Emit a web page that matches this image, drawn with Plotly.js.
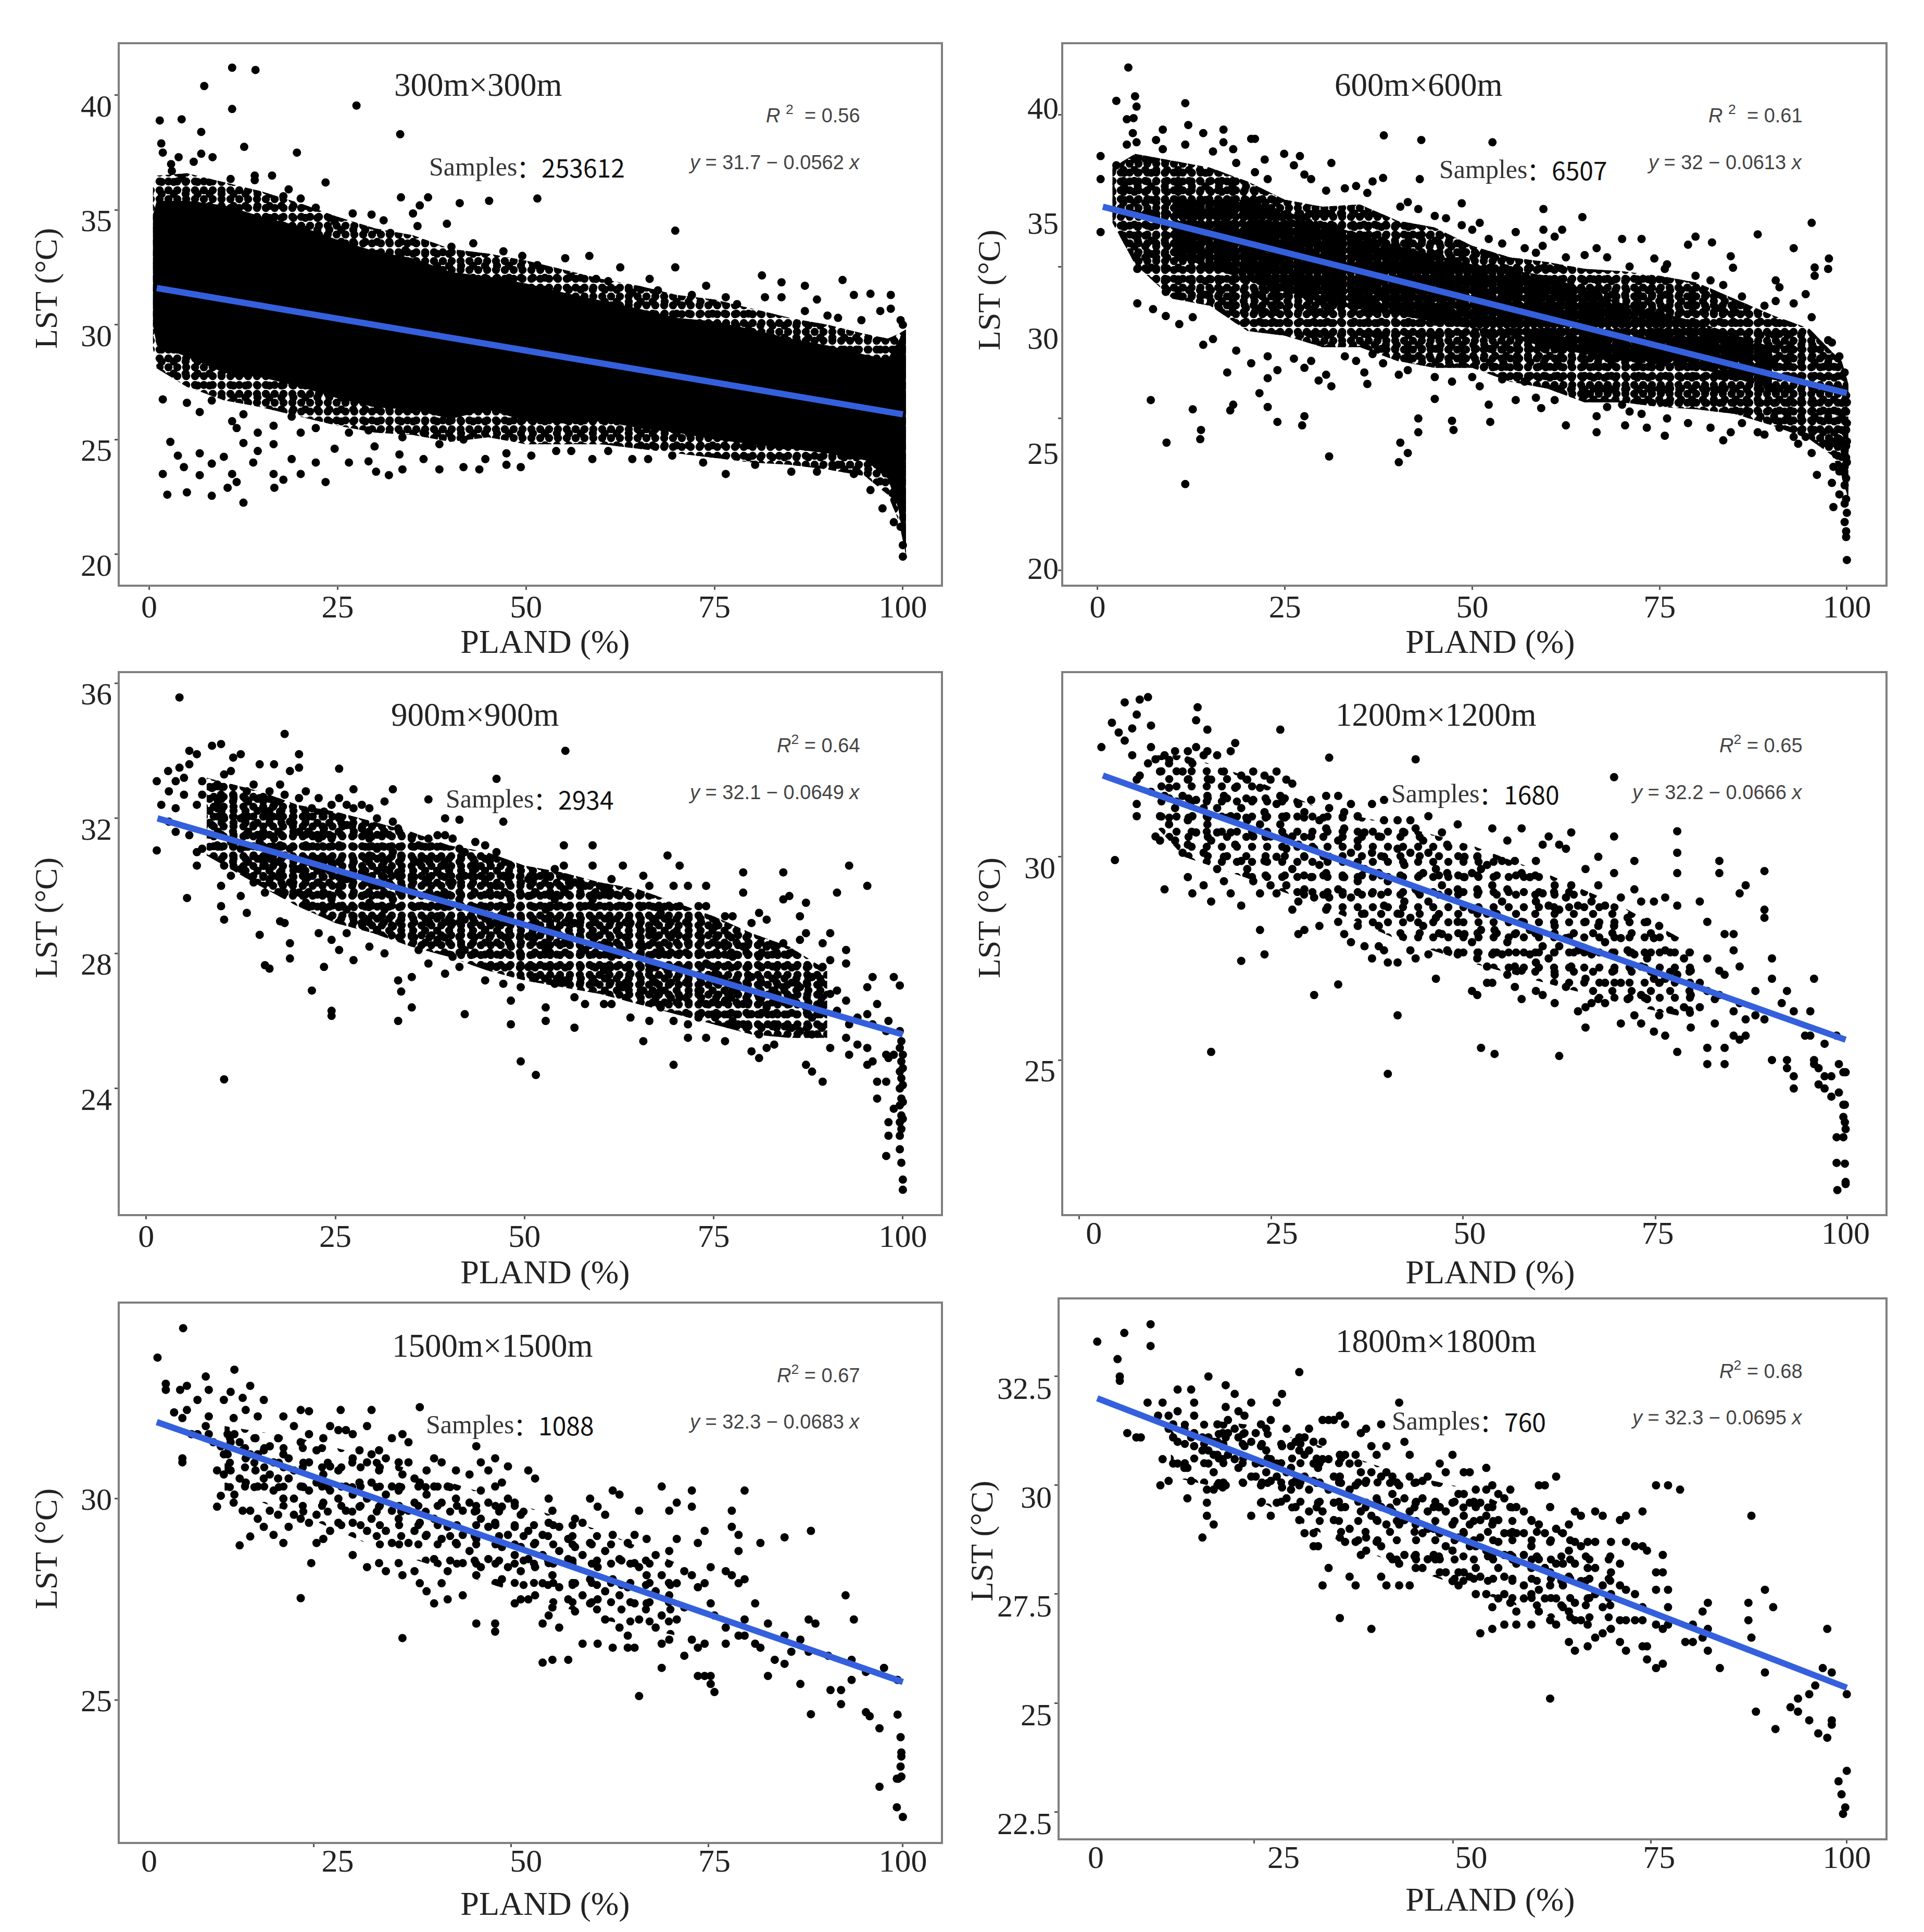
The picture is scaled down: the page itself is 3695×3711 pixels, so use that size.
<!DOCTYPE html>
<html><head><meta charset="utf-8">
<script src="https://cdn.plot.ly/plotly-3.0.0.min.js"></script>
<style>html,body{margin:0;background:#fff}</style></head><body><div id="chart" style="width:3695px;height:3711px"></div>
<script>
// Each row: PLAND value, then the LST values read at that PLAND.
const rows300=[[1.4,38.9],[1.6,37.9],[1.8,37.5,26.75,23.5],[2.4,22.6],[2.8,24.9],[2.9,37],[3,36.7],[3.8,24.3],[3.9,37.3],[4.3,38.95,36.4],[4.6,23.8],[5,22.7,26.6],[5.9,37.1],[6.7,24.4,23.45,26.2],[6.9,38.4,37.45],[7.3,40.4],[8.3,22.55,23.95,26.7],[8.4,37.3],[9.9,24.25],[10.4,22.9],[10.8,36.35],[11,41.2,39.4,23.5,25.8],[11.6,23.15,25.5],[12.5,22.25,24.85,26.1],[12.6,37.75],[13.8,24],[14,36.5,36.3],[14.1,41.1],[14.4,24.5,25.3],[16.3,36.5],[16.5,24.8,23.5,25.6],[16.6,22.9],[17.8,23.25,35.6],[18.5,35.9],[18.9,24.15,26],[19.6,37.5],[20.1,35.5,23.5,25.3],[22.1,35.1,24,25.5],[23.4,36.2,23.15],[24.6,24.6,34.5],[26.5,24,25.3],[27,34.85],[27.5,39.55],[29.1,24.05,25.4],[29.5,34.8],[29.9,24.7],[30.1,23.6],[31.1,34.55],[31.8,23.45],[32,34],[33.2,24.35],[33.3,38.3],[33.4,35.55],[33.6,23.7,25.1],[34,33.25],[35,34.85],[35.6,34.3],[35.9,35.2],[36.4,24.15,25.3],[37,35.55],[38.5,23.7,24.8],[39.5,34.4],[40.1,33.4],[41.2,35.3],[41.7,23.8,25],[43,33.55],[43.8,23.7],[44.6,24.15],[45.1,35.4],[47,33.2],[47.4,23.9,24.4],[49.3,23.8],[49.5,33],[50.7,24.3],[51.5,35.5,32.6],[54,24.5],[55.2,32.9],[56,24.5,32.1],[58.4,33],[58.8,24.15],[59.3,32],[60.9,24.5,31.9],[62.5,32.5],[64.1,24.15,31.4],[66.2,24.15],[66.4,32],[67.5,31.5],[69.4,24.3],[69.8,34.1,32.5],[72,31.3],[73.5,24],[73.9,31.7],[76.5,23.5,31.2],[78,30.9],[80.4,23.9],[81.3,32.15],[81.7,31.2],[83.9,31.85,31.2],[85.2,23.6],[87,31.7,30.6],[88.6,23.6,31.1],[90,30.4],[91.4,23.9,30.3],[92,31.95],[93.5,31.3,23.5],[94.5,30.2],[95.7,22.8,31.35],[97,30.6],[97.3,22],[98.4,31.3,30.7],[98.8,21.4],[99.7,30.2,22.6,21.2],[100,30,20.4,19.9]];
const bandX300=[0.5,1,5,10,15,20,25,30,35,40,45,50,55,60,65,70,75,80,85,90,95,98,99.4,100.4];
const bandTop300=[34.8,35.4,35.4,35.2,34.7,34.3,33.7,33.2,32.9,32.3,32.1,31.8,31.4,31.05,30.7,30.3,30.15,29.8,29.4,29.1,28.7,28.5,29.3,29.8];
const bandBot300=[30,29.1,28.6,27.9,27.7,27.3,26.8,26.4,26.3,25.9,26.3,25.8,25.7,25.8,25.5,25.3,25,24.8,24.6,24.4,24.1,23.3,22,20];
const bandTopOuter300=[36,36.5,36.6,36.2,35.8,35.3,34.7,34.2,33.9,33.3,33.1,32.8,32.4,32,31.7,31.3,31.1,30.7,30.3,30,29.6,29.4,29.6,29.8];
const bandBotOuter300=[29,28.1,27.3,26.7,26.4,26,25.6,25.3,25.2,24.9,25.1,24.8,24.8,24.8,24.6,24.4,24.2,24,23.9,23.7,23.4,22.6,21.5,20];

const rows600=[[0.4,37.9,36.9,34.6],[2.5,40.3,37.5],[3.9,39.5,38.4],[4.1,41.75],[4.7,38.9],[4.8,39.55],[5,40.5],[5.2,40.05,38.5],[5.3,31.5,33],[7.1,27.3],[7.4,31.25],[7.8,38.6],[8.7,39.05,38.2],[9.1,30.95,32],[9.2,25.45],[10.9,30.6],[11.7,40.2,23.65,38.4],[12.1,39.25],[12.7,26.9,30.9],[13.7,25.6],[13.8,26],[14.1,38.9,29.7],[15.4,29.95,38.1],[16.8,39.05,38.5],[17.3,28.5],[17.7,26.85],[18.1,27.1,38.2],[18.5,29.45,37.6],[20.5,38.65,28.9],[21,38.65,37.2],[21.6,27.6],[22.3,37.75],[22.7,27,28.25,29.2,36.9],[24,26.35,28.6],[24.9,38],[26.2,37.5,29.1],[27,37.9],[27.3,26.2],[27.6,26.6,37.1,28.7],[28.5,36.9,29],[29.5,28.15],[30.5,28.4,36.4],[31.2,37.6,27.9],[30.9,24.85],[33,36.5,29.2],[34.5,36.6,29],[35.6,28.5],[36,28,36.3],[36.7,36.8,29.3],[38.1,36.95,28.9],[38.2,38.8],[40.2,24.6,28.4],[40.4,25.45,35.7],[41.4,25,35.9,28.6],[42.8,26.5,25.9,35.6],[43,36.9],[43.2,38.6],[45,27.35,35.3,28.3],[46.5,35.2],[47.3,26.4,28.1],[47.5,26],[48.6,35.85,34.9],[50,34.7,28.3],[51,35,27.9],[52.2,27.1,34.3],[52.4,26.35],[52.7,38.5],[54,34.1,28.2],[55.8,27.3,34.6],[57,33.9,28.1],[58.5,27.4,33.7],[59.2,26.95],[59.4,34],[59.5,35.6,34.7],[61,34.4,27.3],[62,34.7],[62.5,26.2,33.5],[64.7,35.25],[65,33.6,27.5],[66.6,25.9,26.6,33.9],[68,33.5,27],[70,34.3,27.1],[70.4,26.2],[71,33.1,26.8],[72.6,34.3,26.7],[73.3,26.1],[74.3,33.45],[75.7,25.75,33],[76,33.2,26.5],[78.8,34.05,26.3],[79.8,34.4,32.7],[81.8,26.1,32.5],[82,34.15],[83.5,25.55,32.3],[84.5,33.55,25.9],[84.8,33.05],[86,31.8,26.3],[88.1,34.5,25.9],[89,25.8,31.4],[90.5,32.5,31.6],[91,26.1,32.2],[92.9,33.9,31.5,25.7],[93.5,25.4],[94.5,31.9,25.7],[95.3,35,25,30.9],[95.7,33.06,32.7],[96,24.05],[97.5,33,29.9],[97.6,33.45],[98,23.7,25.5,29.8],[98.2,22.65,24.4],[99,29.2,25.6,24.2,23.2],[99.7,22,28.5,26.4,25.1,24.4,23.6,22.8],[99.9,21.35,21.6,27.5,26.8,26,25.3,24.8,23.9,23],[100,20.35,27.2,26.3,25.5,24.6,22.4]];
const bandX600=[2,5,10,15,20,25,30,35,40,45,50,55,60,65,70,75,80,85,90,95,98,99.3,100.2];
const bandTop600=[37.4,38,37.7,37.4,36.8,36,35.7,35.8,35.1,34.8,34,33.5,33.3,33,32.9,32.7,32.4,31.7,31,30.4,29.4,29,28];
const bandBot600=[35,33.2,31.7,31.4,30.3,30.1,29.6,29.6,29,28.7,28.7,28.1,27.8,27.2,27.2,27,26.9,26.7,26.2,25.6,24.9,24,23];
const coreX600=[10,20,30,40,50,60,70,80,90];
const coreTop600=[36,36,35,34,33.2,32.7,31.5,30.7,29.6];
const coreBot600=[33.6,32.5,31.5,31,30.4,29.6,29,28.7,27.8];

const rows900=[[1.4,33.1,31.05],[2,32.4],[2.9,33.4],[3,32.8,31.9],[3.9,33.1,31.6,32.3],[4.4,35.58,33.5],[5,33.2,32.7],[5.4,29.64],[5.7,34,33.6,31.5],[6.7,33.9,32.4,30.6,31],[7.4,33.1,32.7,31.1],[8.7,34.15,32.9,31.8],[9.4,33,32.3,31.2],[9.9,34.2,32.7,30,29.4],[10.3,24.27,33.3,32,30.6,29],[11.2,33.4,31.3,30.3],[11.5,33.8,32.7,30.9],[12.5,33.9,32,31.1,30.5,29.7],[13.3,32.8,31.5,29.2],[14.2,33,31.8,30.9,30.1],[15,33.6,32.6,31.3,28.55],[15.7,32.2,30.6,29.8,27.65],[16.3,32.8,32,31,30.2,27.55],[16.9,33.6,32.4,31.4,30.7],[17.7,33,32.2,31.2,30.4,28.95],[18.3,34.5,32.7,30.9,29.8,28.9],[19,33.4,31.9,31.1,30.1,28.3,27.85],[20.2,33.9,33.5,32.6,31.6,30.5,29.8],[21.1,32.8,32,31.2,30.2,29.5],[21.9,32.3,31.5,30.8,29.4,26.9],[22.8,32.6,31.4,30.1,28.6],[23.5,32.2,31.7,30.5,29.3,27.6],[24.5,32.4,31.4,30.7,29.6,28.4,26.3,26.15],[25.5,33.47,32.6,32,31.2,30,29.4,28.1],[26.5,32.4,31.8,30.2,29.3,28.6],[27.4,32.86,32.3,31.5,30.7,29.1,27.8],[28.5,32.4,31.7,30.4,29.7,28.9],[29.5,32.3,31.4,30.9,29.5,28.2],[30.5,32,31.1,30,28.7],[31.5,32.5,31.6,30.5,29.3,28],[32.6,32.86,31.9,31,29.6,28.8],[33.3,26,31.7,30.4,27.2],[33.7,26.87,30.9,29],[35.1,26.4,31.4,30.2,28.5,27.3],[36,31.2,30.7,29.4,28.1],[37.3,32.56,31.4,30.2,28.9,27.7],[38.5,31.5,30.4,29.1,28.4],[39.5,32,31.5,30.6,29.7,27.4],[40.5,31.4,30.1,28.9,27.9],[41.4,31.96,31.1,29.6,28.5,27.6],[42.1,26.2,31,30.3,29,28.1],[43.5,31.3,30.5,29.3,28],[44.8,31.2,30.2,28.7,27.2],[46.3,33.17,31,30,28.9,27.6],[47.2,31.9,30.3,29.2,27.1],[48.2,25.9,26.6,30.6,29.6,28.2],[49.5,24.8,30.1,29.1,27.9,27],[50.5,30.2,29.7,28.5,27.6],[51.5,24.4,29.8,28.9,27.3],[52.8,26,26.4,30.3,29.3,28.1],[54,30.5,29.6,28.7,27.1],[55.2,31.2,30.6,29.9,28.3,27.2],[55.4,34],[56.6,25.8,30.1,28.9,26.7],[58,30,29.4,28.1,26.5],[59,31.2,30.6,29.6,28.5,27.2],[60.5,29.9,28.7,27.5,26.5],[61.5,30.2,29,27.9,26.5],[63,30.6,29.4,28.1,27],[64,29.7,28.9,27.4,26.1],[65.7,25.4,30.3,29.4,28.2,26.9],[66.5,30,28.7,27.5,26],[68,29.2,28.1,26.9,26.4],[68.9,30.9,29,27.5],[69.7,24.7,30,28.6,26],[70.5,30.6,29.4,28,26.7],[71.6,30,28.3,27.2,25.9,25.5],[73,29.4,28,26.9,26.1],[74,30,29.4,27.7,26.5,25.5],[75.2,28.8,27.4,26.1],[76.5,29.1,28.2,26.6,25.4],[77.5,29.1,27.9,26.9,26],[78.9,30.4,29.8,28.2,26.5,25.9],[80,28.9,27.3,26.2,25.1],[81,29.2,27.9,26.7,24.9,25.6],[82,29,28.2,26.4,25.2],[83,28.2,26.9,25.9,25.3],[84.2,30.4,29.6,28.3,27],[85,29.7,28,26.5,25.8],[86.4,29.1,28.4,27,25.7],[87.2,29.5,28.6,26.4,24.7],[88,27.3,26.1,25.6,24.5],[89.4,28.3,27.6,26.4,24.2],[90.4,28.6,27.8,26.8,25.2],[91.3,29.8,26.9,26.3],[92.5,28.1,27.7,26.6,25.5],[92.9,30.6,25.9,25],[94,26.1,25.3],[95.3,30,27,26.2,25.2,24.7],[96,27.3,25.9,24.8],[96.6,26.5,24.2,23.7],[97.8,22,25.7,25,24.2],[98.1,22.6,23,26,24.9],[98.8,27.3,23.4,25],[99.6,27.05,25.7,25.2,24.5,24,23.5,23,22.6,22.2],[99.8,21.8,25.4,24.8,24.3,23.7,23.2,22.8],[100,21.3,21,25,24.6,24.1,23.6,23.1]];
const bandX900=[8,15,20,25,30,35,40,45,50,55,60,65,70,75,80,85,90];
const bandTop900=[33.2,32.8,32.4,32.2,31.9,31.6,31.2,31,30.6,30.4,30.1,29.9,29.5,29.1,28.6,28.2,27.5];
const bandBot900=[30.9,30,29.4,28.9,28.6,28.2,27.9,27.5,27.2,27,26.8,26.5,26.2,25.9,25.6,25.5,25.5];

const rows1200=[[1,32.7],[2.4,33.3],[2.8,29.92],[3.3,33.06],[4.1,33.8,32.86],[5.1,33.16,32.5],[5.7,33.5,31.9,31.3,31],[6.1,33.87,32],[7.2,33.93,32.3],[7.6,33.23,32.7,31.6],[8.2,32.4,30.5],[8.8,32.1,30.4,31],[9.4,29.2,32.5,31.5],[10,32.3,31.7,30.8],[10.8,32.6,31.2,30.4],[11.8,32.1,31.5,30.1],[12.5,32.6,31.9,30.9,30.3,29.5],[13.1,32.3,31,29.1],[13.6,33.36,32.7,31.4,30.6],[13.8,33.68],[14.6,32.5,31.2,30.1,29.3],[15.1,33.13,32.6,31.5,30.8],[15.6,25.2,31.9,30.4,28.9],[16.4,32.5,31.2,30.6,29.7],[17.3,32.1,31.5,30,29.4],[18.2,32.6,31,30.6,29.1],[18.8,32.8,31.7,30.3],[19.6,27.44,32,31.2,29.9,28.8],[20.4,31.9,30.9,29.7],[21.2,32.1,31.4,30.5,29.4],[22.1,31.7,30.8,29.1,28.2],[22.7,27.6,32,31.1,29.9],[23.5,31.9,30.5,29.3],[24.3,32.1,31.3,30,29.1],[24.8,33.13,31.5,30.8],[25.6,31.9,31,30.2,29.3],[26.4,31.8,30.5,29.7,28.7],[27.2,31.3,30.3,28.9,28.1],[28,31.1,30,29.2,28.2],[28.9,31.4,30.5,29.5],[29.3,26.6,30.2,29],[30,30.9,29.8,28.3],[30.9,31.5,30.7,29.6,28.7],[31.3,32.44,31.2,30,29],[32.5,26.86,31.5,30.4,29.2,28.4],[33.3,31.1,30.7,29.5,28.1],[34.2,31.3,30.1,29,27.9],[35.1,31,30.4,29.4,28.3],[36,30.6,29.7,28.6,27.8],[37,31.3,30.1,29.1,27.5],[37.9,30.5,29.6,28.3,27.8],[38.6,31.4,30.9,30,28.8,27.7],[39.1,24.66,29.4,27.4],[40.4,26.1,30.9,30.2,28.6,27.4],[41.3,30.6,29.8,28.9],[42.1,30.9,30.1,28.5,27.7],[42.8,32.4,30.7,29.2,27.5],[43.8,30.4,29.6,28.3],[44.5,31,30.1,28.9,27.6],[45.5,29.7,28.5,27],[46.3,30.6,29.3,28.1],[47,30.3,29.6,27.7],[48.4,30.8,29.2,28.4,27.6],[49.3,30,29.5,28.1],[50.3,29.6,28.7,27.9,26.7],[51,30,29.2,27.5,26.6],[51.5,25.3,29.7,28.2],[52.3,29.8,28.6,27.3,26.9],[53,30.7,29.3,27.6,26.9],[53.3,25.15,28.2],[54.3,29.9,28.9,27.6],[55,30.4,29.2,27.9,27.1],[56,29.9,28.1,27.3,26.8],[56.9,30.7,29.6,28.4,27.2,26.5],[58,29.5,28.2,27.6],[58.8,29.9,28.9,27.4,26.7],[59.7,30.3,29.1,27.8,26.6],[60.5,30.5,28.8,27.5],[61.3,29.3,28.3,27.1,26.4],[61.9,25.1,30.3,28.7,27.8],[62.8,30.2,29,28,26.8],[63.5,30.6,29.3,27.3],[64.4,28.8,27.7,26.2],[65.4,29.7,28.4,27,26.3,25.8],[66.2,28.9,27.6,26.4],[67.1,30,29.3,28.3,26.5],[68,28.8,27.9,26.9,26.4],[69.2,31.96,30.5,29.6,28.3,27.2],[70.1,29,28,26.9,25.9],[71,28.5,27.7,26.5],[71.9,29.9,29.2,27.6,26.1],[72.8,28.9,27.3,26.6,25.9],[73.6,28.4,27.5,26.5],[74.5,28.9,28,27,25.7],[75.2,28.3,26.9,26.1],[76,29,27.7,27,25.6],[77.6,30.63,30.1,29.6,28.8,27.1,25.2],[78.5,27.5,26.3],[79.4,27.2,26.6,25.8],[80.6,28.9,26.9,26.3],[81.6,25.3,24.9,28.4,27.5,26.7],[82.6,26.5,25.9],[83.2,29.9,29.6,27.2,26.6],[83.9,28.1,27.1,25.3,24.9],[85.1,28.1,27.7,26.2,25.6],[85.9,29.1,27.3,26.4,25.5],[86.7,29.3,26,25.6],[88,26.7,26.1],[89.2,29.65,28.7,28.5,26],[90.2,27.5,27,25],[91.5,26.4],[92.2,26.7,25,24.8],[93.1,26.2,24.6,24.3],[94.6,25.6],[95.3,26.2,25.6],[95.8,27,25,24.9],[96.4,24.4,24.8],[97.2,25.4,24.6,24.3],[98.1,24.6,24.1],[98.8,23.1,22.47,25.6],[98.9,21.8],[99.1,24.9,24.2],[99.7,24.7,23.9,23.6,23.1],[99.9,23.47,23.9,22.45],[100,22,21.95,24.7,23.3]];
const bandX1200=[8,12,20,30,40,50,60,70,80];
const bandTop1200=[32.5,32.5,32,31.2,30.8,30.3,29.6,28.8,27.8];
const bandBot1200=[30.8,30,29.5,28.8,28,27.4,26.9,26.4,26];

const rows1500=[[1.1,33.5],[2.2,32.85,32.7],[3.3,32.14],[4.1,32.7],[4.4,32,31,30.9],[4.5,34.23],[5,32.8,32.2],[5.6,31.6],[6.4,32.45,31.6],[7.5,33.03,31.8],[7.9,32.7,32.04,31.6],[8.5,31.4],[9,29.8,30.7],[9.5,30.07,31.3],[9.9,32.45,31.1,30.6],[10.4,31.6,31.1],[10.8,32.65,31.4,30.7],[11.3,33.2,31.6,30.1],[11.2,32,29.9],[12,28.84,31.4,30.5],[12.4,32.5,31.2,29.7],[12.8,32.2,31,30.4],[13.4,32.8,29.06,29.7,31.1],[14.1,31.5,30.7],[14.4,32.04,31.1,30.3,29.5],[15.2,32.45,31.2,30.5,29.3],[16,31.3,30.6,29.7],[16.5,30.9,30.2,29.1],[17.1,31.5,30.5,29.6],[17.8,32.04,31.1,30,28.9],[18.5,31,30.5,29.3],[19.2,31.8,30.7,30,29.6],[20.1,32.2,31.4,30.3,29.5,27.53],[21.2,32.17,31.6,30.9,30.2,29.4],[21.5,28.4],[22.2,31.2,30.4,29.6,28.9],[23.1,31.5,30.6,29.9,29],[24,31.8,30.8,30.2,29.2],[25.1,31.7,30.7,30,29.4],[25.4,32.2],[26.1,31.7,30.3,29.7],[27,31.6,31,30.1,29.4,28.6],[27.9,31.2,30.4,29.8],[28.9,31.8,30.9,30,29.2,28.3],[29.5,32.2,31.1,30.4,29.5],[30.5,31.2,30.7,29.8,28.4],[31.4,31,30.1,29.2,28.2],[32.2,31.5,30.3,29.7,28.9],[33.1,30.9,30.2,29.5,28.4],[33.6,26.54,31.6,30.6,28.1],[34.4,31.4,30.9,29.7,28.9],[35.2,30.5,29.9,29.2,28.2],[35.9,32.27,30.4,29.4,27.9],[36.8,30.7,30.1,29.1,27.7],[37.8,31,30.3,29.5,28.5,27.4],[38.8,30.9,29.9,29,27.9],[39.6,30.3,29.3,28.2,27.5],[40.7,30.7,30,28.9],[41.6,29.7,29.1,28.4,27.6],[42.5,30.6,29.9,28.7],[43.4,31.3,29.7,29,28.1,26.9],[44,30.9,30.2,29.5,28.3],[45,30.7,29.9,29.3,28.5],[45.9,31,30.3,29.4,26.7,26.9],[46.8,30.4,29.8,28.8,28],[47.6,30.8,30,29.1,28.3],[48.5,29.9,29.3,28.6,27.4],[49.3,29.6,28.8,28.2,27.5],[50.3,30.7,29.2,28.5,27.5],[51.2,30.5,28.9,28.3,27.6],[52.2,25.93,29.1,28.6,27.9,26.9],[53,30,29.4,28.4,27.1],[53.5,26,29.7,28.1,27.3],[54.4,29.3,28.7,27.8,26.8],[55.6,26,29,28.5,27.5],[56.5,29.5,28.8,27.9,27.2],[57.5,29.4,28.6,27.6,26.4],[58.5,30,28.9,28,27.4],[59.5,29.8,28.3,27.5,26.4],[60.5,29.6,28.7,27.7,27],[61.5,30.2,29.1,28,26.3],[62.4,30.1,28.5,27.6,26.8],[63.5,28.9,27.8,26.3,26.6],[64.4,29.1,28.4,27.4,26.3],[65,25.1,29.7,28.3,27],[66,29,28.1,27.4],[67.2,28.6,27.7,26.8],[68,25.8,30.3,28.1,27.1,26.4],[69,29.7,28.7,27.6,26.5],[70,29.9,29,27.9,27],[71,28.2,27.3,26.1],[72,30.2,29.8,28.1,26.5],[72.8,28.9,27.8,26.3,25.6],[73.7,29.2,27.9,26.4,25.6],[74.5,28.3,27.4,25.6,25.4],[75,25.2,27.1],[76.5,28.2,26.8,26.4],[77.3,29.7,29.3,28.1],[78.2,29.1,28.7,27.9,26.6],[79,30.2,28,27,26.6],[80.4,27.4,26.4],[81.1,28.9,26.3],[82.1,26.9,25.6],[83,26],[84.3,29.04,26.6,25.9],[85.2,26.2],[86.4,25.4,26.5],[87.5,27,26.2],[87.8,29.2,24.65],[88.4,26.9],[90.1,26.1],[90.4,25.25],[91.8,24.9,25.25],[92.4,27.6],[93.2,26,25.5],[93.5,27],[95.1,24.7,25.7],[95.6,24.6],[96.9,22.85,24.3],[97.5,25.8],[99.2,22.34,23.05],[99.3,24.64,25.5],[99.4,23.05],[99.7,24.08,23.35],[99.8,23.7,23.6,23.1],[100,22.1]];
const bandX1500=[10,20,30,40,50,60,70];
const bandTop1500=[31.8,31.5,31,30.4,29.8,29.2,28.4];
const bandBot1500=[30.2,29.6,28.8,28.2,27.6,27,26.6];

const rows1800=[[0.2,33.3],[2.9,32.9],[3.2,32.5,32.4],[3.8,33.5],[4.2,31.2],[5.4,31.1],[6,31.1],[6.9,31.9],[7.3,33.7,33.2],[8.3,31.6],[8.9,31.9,30.6],[8.6,30],[9.7,31.6,31.3,30.1],[10.3,31.4,31.1,30.5],[10.9,32.2,31.7,31,30.5],[11.8,31.3,30.4],[12.2,30.4,29.7],[12.7,32.2,31.1,30.1],[13.1,31.9,31.6,31.2,30.9],[14.2,31.1,30.8,28.8],[14.8,29.9,29.6,29.3],[15,32.5,31.1,30.8,30.5],[15.7,31,30.7,30.3,29.9,29.1],[16.2,31.4,31,30.7,30],[16.9,31.2,30.9,30.6,29.95],[17.3,32.3,31.8,31.1,30],[17.6,31.5,31.2,30.7],[18.5,32.1,31.3,30.6],[19,31.7,31.1,30.4],[19.8,31.6,31.2,30.9],[20.7,31.9,31,30.2,29.3],[21.3,31.2,30.5,30.2],[22,31.4,30.9,30,29.6],[22.7,31.3,30.8,30.3],[23.3,31.5,30.6,30.1,29.3],[24.1,31.9,30.5,30.2,29.6],[24.8,32.1,30.9,29.95],[25.4,31.3,30.3,29.7],[26,30.9,30.4,29.9],[26.6,31,30.1,29.5],[27.1,32.6,31.1,30.8,30,29.2],[27.8,31.1,30.7,30.2,28.9],[28.4,31.3,30.8,29.9,29.4],[29,31,30.5,30.1,28.6,28.9],[29.6,30.4,29.6,28.6],[30.2,31.5,31,30.6,29.4,27.7],[31,31.5,30.6,29.9,28.1],[31.7,31.5,30.2,29.6,29.2],[32.5,31.6,30.7,30.2,28.8,26.95],[33.2,31.4,30.7,29.5,28.7],[33.8,30.5,29.9,29,27.9],[34.6,30.7,30,28.7,27.7],[35.3,31.2,30.3,29.4,28.4],[36,31.3,30.1,29.6,28.8,28.5],[36.7,30.9,30.3,29.3,26.7],[37.4,30.7,29.7,29.2,28.7],[38,31.4,30.2,29.5,28.6,27.9],[38.7,30.9,30.3,29.1,27.7],[39.5,30.2,29.8,29.4,28.3],[40.4,31.9,30,29.1,28.2,27.7],[41.1,31,29.7,29.2,28.4],[41.8,30.7,30.2,29.4,27.7],[42.6,29.6,29.1,28.4,28.1],[43.5,30.1,29.7,28.9,28.1],[44.2,30.2,29.4,29,28.3],[45,29.5,29,28.4],[45.8,30.5,29.5,28.9,28.3,28],[46.6,30.3,29.4,28.6,28],[47.5,30.7,29.6,29.1,27.8,28.5],[48.3,29.8,28.8,28,27.7],[49,30.3,29.8,29.3,28.9,28],[49.8,30.3,29.6,29.1,28.6,27.9],[50.6,29.9,29.5,28.6,27.5,28.1],[51.2,29.6,29.2,28.8,26.6,27.9],[52,30.4,29.9,29.3,28.5,27.5],[52.8,30,29.5,29.1,28.4,27.2,26.7],[53.6,29.8,29.2,28.7,28.1,27.4],[54.4,29.7,28.9,28.4,27.9,27.5,26.8],[55.2,29.9,29.5,28.9,28.4,27.3],[56,29.5,28.9,28.2,27.1,26.8],[57,29.4,28.9,28.4,27.7,27.4],[58,29.2,28.6,28.1,27.5,26.8],[59,30,29.1,28.3,27.6,27.1],[59.8,30,28.9,28.1,27.4],[60.5,29.5,28.7,28,27.7,26.9,25.1],[61.3,30.2,29,28.2,27.4,26.8],[62.2,28.9,28.2,27.7,27.2],[63,29.1,28.5,27.9,27.1,26.4],[63.8,29.4,28.7,28.2,27.3,26.9,26.2],[64.6,29.3,28.6,27.8,26.9],[65.5,28.7,28.1,27.4,26.8,26.3],[66.5,29.4,28.7,28.1,27.5,26.5],[67.5,29.3,27.7,27.2,26.6],[68.6,28.7,28,27.5,26.7],[69.8,29.2,28.2,27.7,26.9,26.4],[70.6,29.3,28.7,27.6,26.9,26.2],[71.8,28.6,27.5,26.9],[72.8,29.4,28.6,27.2,26.9,26.3],[73.4,28.5,26,26.3],[74.6,30,28,27.6,26.8,25.8],[75.5,28.4,28,26.7,25.9],[76.2,30,27.6,27.2,26.8],[77.8,29.9],[78.5,26.4],[79.5,26.4,26.8],[80.8,27.1,26.5],[81.5,27.3,26.7,26.2],[83.1,25.8],[86.9,27.3,26.9],[87.3,29.3,26.5],[87.9,24.8],[89.1,27.6,25.7],[90.2,27.2],[90.5,24.4],[92.5,24.9],[93.5,25.1,24.8],[95,25.2,24.6],[95.8,25.4],[96.2,24.3],[96.8,25.8],[97.4,26.7,24.2],[98,25.7,24.5,24.6],[98.9,23.2],[99.3,22.9],[99.5,22.45],[99.8,22.6],[100,23.44,25.2]];
const bandX1800=[10,20,30,40,50,60,70];
const bandTop1800=[31.6,31.4,30.9,30.3,29.9,29.1,28.5];
const bandBot1800=[30.2,29.8,28.9,28.2,27.6,27,26.6];

const fitX300=[1,100],fitY300=[31.6,26.1];
const fitX600=[0.7,100],fitY600=[35.7,27.6];
const fitX900=[1.5,100],fitY900=[32,25.6];
const fitX1200=[1.2,100],fitY1200=[32,25.5];
const fitX1500=[1,100],fitY1500=[31.9,25.45];
const fitX1800=[0.2,100],fitY1800=[32,25.35];

const titles=['300m×300m','600m×600m','900m×900m','1200m×1200m','1500m×1500m','1800m×1800m'];
const samples=['253612','6507','2934','1680','1088','760'];
const r2s=['0.56','0.61','0.64','0.65','0.67','0.68'];
const eqs=['31.7 − 0.0562','32 − 0.0613','32.1 − 0.0649','32.2 − 0.0666','32.3 − 0.0683','32.3 − 0.0695'];
const yTicks=[[40,35,30,25,20],[40,35,30,25,20],[36,32,28,24],[30,25],[30,25],[32.5,30,27.5,25,22.5]];
const xTicks=[0,25,50,75,100];

// layout geometry
const W=3695,H=3711;
const boxes=[[230,1807,85,1123],[2042,3621,85,1123],[230,1807,1293,2332],[2042,3621,1293,2332],[230,1807,2504,3538],[2035,3621,2496,3531]];
const xr=[[-3.91,105.05],[-4.58,105.15],[-3.49,105.03],[-4.07,105.3],[-3.91,105.05],[-4.81,105.15]];
const yr=[[18.68,42.22],[19.28,42.76],[20.28,36.3],[21.21,34.52],[21.48,34.84],[21.89,34.27]];
const yShift=[20,0,20,20,0,22];
const xMinor=[[],[],[],[-1.96,23.6,49.1,74.7,100.2],[21.8,48,74.2,100],[21.1,47.6,73.9,100]];
const yMinor=[[],[39.7,33.1,26.5,19.9],[],[],[],[]];
const titlePos=[[918,163],[2724,163],[912,1373],[2758,1373],[946,2585],[2758,2576]];
const statRight=[1654,3464,1654,3464,1654,3464];
const r2Y=[219,219,1429,1429,2639,2631];
const eqY=[312,312,1522,1522,2731,2723];
const samplePos=[[822,320],[2762,325],[854,1534],[2670,1524],[816,2736],[2671,2729]];
const xTitlePos=[[1047,1232],[2862,1232],[1047,2443],[2862,2443],[1047,3656],[2862,3648]];
const yTitlePos=[[88,554],[1899,557],[88,1763],[1899,1763],[88,2975],[1885,2960]];

const rowsAll=[rows300,rows600,rows900,rows1200,rows1500,rows1800];
const fits=[[fitX300,fitY300],[fitX600,fitY600],[fitX900,fitY900],[fitX1200,fitY1200],[fitX1500,fitY1500],[fitX1800,fitY1800]];
// [x, top, bottom, dot spacings of the speckle layers (empty = solid)]
const bands=[
 [[bandX300,bandTopOuter300,bandBotOuter300,[17,23]],[bandX300,bandTop300,bandBot300,[]]],
 [[bandX600,bandTop600,bandBot600,[17,21,26]],[coreX600,coreTop600,coreBot600,[13,16]]],
 [[bandX900,bandTop900,bandBot900,[19,23,29]]],
 [[bandX1200,bandTop1200,bandBot1200,[29,37]]],
 [[bandX1500,bandTop1500,bandBot1500,[37,47]]],
 [[bandX1800,bandTop1800,bandBot1800,[37,47]]]];

const data=[],annotations=[],layout={width:W,height:H,margin:{l:0,r:0,t:0,b:0},paper_bgcolor:'#fff',plot_bgcolor:'#fff',showlegend:false,font:{family:'Liberation Serif',color:'#222'}};
const px=x=>x/W, py=y=>1-y/H;
const serif='Liberation Serif', sans='Liberation Sans', cjk='Noto Sans CJK SC';
rowsAll.forEach((rows,i)=>{
  const n=i+1, xa='x'+(n>1?n:''), ya='y'+(n>1?n:'');
  bands[i].forEach(([bx,bt,bb,sizes])=>{
    const base={x:bx.concat(bx.slice().reverse()),y:bt.concat(bb.slice().reverse()),xaxis:xa,yaxis:ya,mode:'lines',line:{width:0},fill:'toself',hoverinfo:'skip'};
    if(!sizes.length) data.push(Object.assign({},base,{fillcolor:'#000'}));
    sizes.forEach(s=>data.push(Object.assign({},base,{fillcolor:'rgba(0,0,0,0)',fillpattern:{shape:'.',size:s,solidity:Math.min(0.8,190/(s*s)),fgcolor:'#000',bgcolor:'rgba(0,0,0,0)'}})));
  });
  data.push({x:rows.flatMap(r=>r.slice(1).map(()=>r[0])),y:rows.flatMap(r=>r.slice(1)),xaxis:xa,yaxis:ya,mode:'markers',type:'scatter',marker:{color:'#000',size:16,line:{width:0}}});
  data.push({x:fits[i][0],y:fits[i][1],xaxis:xa,yaxis:ya,mode:'lines',type:'scatter',line:{color:'#3560dd',width:12}});
  const b=boxes[i];
  layout['xaxis'+(n>1?n:'')]={domain:[px(b[0]),px(b[1])],range:xr[i],anchor:ya,mirror:true,showline:true,linecolor:'#7f7f7f',linewidth:4,showgrid:false,zeroline:false,
    tickmode:'array',tickvals:xTicks,ticktext:xTicks.map(String),ticks:xMinor[i].length?'':'outside',ticklen:6,tickwidth:3,tickcolor:'#555',ticklabelstandoff:-21,tickfont:{family:serif,size:62,color:'#222'},
    minor:xMinor[i].length?{tickmode:'array',tickvals:xMinor[i],ticks:'outside',ticklen:6,tickwidth:3,tickcolor:'#555',showgrid:false}:undefined,
    title:{text:'PLAND (%)',font:{family:serif,size:64,color:'#222'},standoff:16}};
  layout['yaxis'+(n>1?n:'')]={domain:[py(b[3]),py(b[2])],range:yr[i],anchor:xa,mirror:true,showline:true,linecolor:'#7f7f7f',linewidth:4,showgrid:false,zeroline:false,
    tickmode:'array',tickvals:yTicks[i],ticktext:yTicks[i].map(String),ticks:yMinor[i].length?'':'outside',ticklen:6,tickwidth:3,tickcolor:'#555',ticklabelshift:yShift[i],ticklabelstandoff:-7,tickfont:{family:serif,size:60,color:'#222'},
    minor:yMinor[i].length?{tickmode:'array',tickvals:yMinor[i],ticks:'outside',ticklen:6,tickwidth:3,tickcolor:'#555',showgrid:false}:undefined,
    title:{text:'LST (°C)',font:{family:serif,size:62,color:'#222'},standoff:10}};
  const ann=(x,y,text,anchor,family,size,color)=>annotations.push({xref:'paper',yref:'paper',x:px(x),y:py(y),text,xanchor:anchor,yanchor:'middle',showarrow:false,font:{family,size,color}});
  ann(titlePos[i][0],titlePos[i][1],titles[i],'center',serif,63,'#222');
  ann(statRight[i],r2Y[i],(i<2?'<i>R</i>\u00a0<sup>2</sup>\u00a0\u00a0= ':'<i>R</i><sup>2</sup> = ')+r2s[i],'right',sans,38,'#444');
  ann(statRight[i],eqY[i],'<i>y</i> = '+eqs[i]+' <i>x</i>','right',sans,38,'#444');
  ann(samplePos[i][0],samplePos[i][1],'Samples','left',serif,50,'#333');
  ann(samplePos[i][0]+168,samplePos[i][1],'：'+samples[i],'left',cjk,48,'#111');
});
layout.annotations=annotations;
Plotly.newPlot('chart',data,layout,{displayModeBar:false,staticPlot:true}).then(gd=>{
  // place the axis titles where the reference has them (off-centre along their axes)
  const root=gd.getBoundingClientRect();
  const place=(el,cx,cy)=>{
    if(!el)return;
    const r=el.getBoundingClientRect();
    const dx=cx-(r.left+r.width/2-root.left), dy=cy-(r.top+r.height/2-root.top);
    const x=parseFloat(el.getAttribute('x'))+dx, y=parseFloat(el.getAttribute('y'))+dy;
    el.setAttribute('x',x); el.setAttribute('y',y);
    if(el.getAttribute('transform')) el.setAttribute('transform',el.getAttribute('transform').replace(/rotate\([^)]*\)/,`rotate(-90,${x},${y})`));
    el.querySelectorAll('tspan[x]').forEach(t=>t.setAttribute('x',x));
  };
  rowsAll.forEach((_,i)=>{
    const s=i?String(i+1):'';
    place(gd.querySelector('.x'+s+'title'),xTitlePos[i][0],xTitlePos[i][1]);
    place(gd.querySelector('.y'+s+'title'),yTitlePos[i][0],yTitlePos[i][1]);
  });
});
</script></body></html>
